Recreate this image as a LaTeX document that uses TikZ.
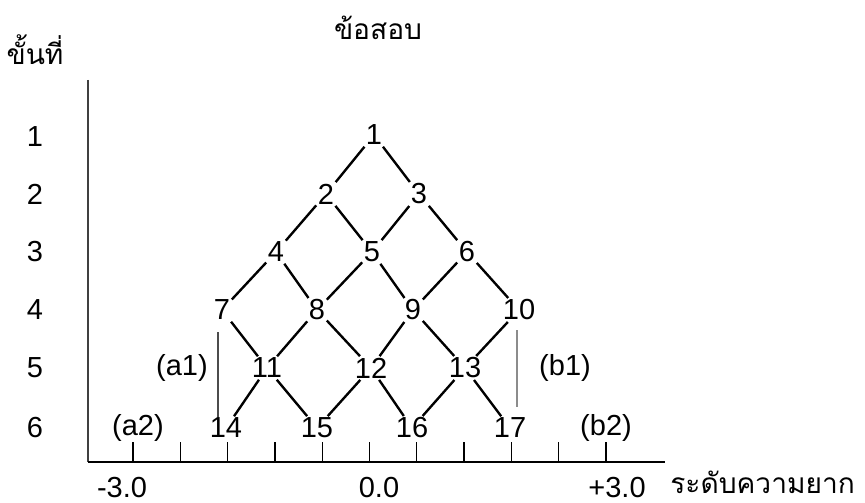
\documentclass[tikz,border=0pt]{standalone}
\usepackage{fontspec}
\setmainfont{Liberation Sans}
\newfontfamily\thaifont[Script=Thai]{Loma}

\tikzset{
    num/.style={font=\fontsize{16.5}{19}\selectfont, inner sep=0.8pt},
    thai/.style={font=\thaifont\fontsize{16}{19}\selectfont, inner sep=0pt},
    link/.style={line width=1.35pt},
    axis/.style={line width=0.9pt},
}

\begin{document}
\begin{tikzpicture}[x=0.02cm, y=-0.02cm]
        \useasboundingbox (0,0) rectangle (865,503);

        % Titles
        \node[thai] (item) at (378,28) {ข้อสอบ};
        \node[thai] (stage) at (35,50) {ขั้นที่};
        \node[thai, anchor=base west] (diff) at (670,493) {ระดับความยาก};

        % Axes
        \coordinate (ytop) at (88,80);
        \coordinate (orig) at (88,462);
        \coordinate (xend) at (665,462);
        \draw[axis, black!75] (ytop) -- (orig);
        \draw[axis] (orig) -- (xend);
        \foreach \i in {0,...,10}
            \draw[line width=0.7pt] (133+47.3*\i,442) -- (133+47.3*\i,462);
        \node[num] (lo) at (122,488) {-3.0};
        \node[num] (mid) at (379,488) {0.0};
        \node[num] (hi) at (617,488) {+3.0};

        % Stage numbers
        \foreach \s/\y in {1/137,2/194,3/252,4/310,5/368,6/428}
            \node[num] (s\s) at (35,\y) {\s};

        % Items
        \node[num] (n1) at (374,135) {1};
        \node[num] (n2) at (326,194) {2};
        \node[num] (n3) at (419,194) {3};
        \node[num] (n4) at (276,252) {4};
        \node[num] (n5) at (372,252) {5};
        \node[num] (n6) at (467,252) {6};
        \node[num] (n7) at (222,310) {7};
        \node[num] (n8) at (317,310) {8};
        \node[num] (n9) at (413,310) {9};
        \node[num] (n10) at (519,310) {10};
        \node[num] (n11) at (267,368) {11};
        \node[num] (n12) at (371,368) {12};
        \node[num] (n13) at (465,368) {13};
        \node[num] (n14) at (226,428) {14};
        \node[num] (n15) at (317,428) {15};
        \node[num] (n16) at (412,428) {16};
        \node[num] (n17) at (510,428) {17};

        % Branches
        \foreach \a/\b in {1/2,1/3,2/4,2/5,3/5,3/6,4/7,4/8,5/8,5/9,6/9,6/10,
                           7/11,8/11,8/12,9/12,9/13,10/13,
                           11/14,11/15,12/15,12/16,13/16,13/17}
            \draw[link] (n\a) -- (n\b);

        % End ranges
        \coordinate (a1top) at (218,332);
        \coordinate (a1bot) at (218,417);
        \coordinate (b1top) at (517,330);
        \coordinate (b1bot) at (517,407);
        \draw[line width=1pt, black!70] (a1top) -- (a1bot);
        \draw[line width=1.2pt, black!45] (b1top) -- (b1bot);
        \node[num] (a1) at (182,368) {(a1)};
        \node[num] (b1) at (565,368) {(b1)};
        \node[num] (a2) at (138,428) {(a2)};
        \node[num] (b2) at (606,428) {(b2)};
    \end{tikzpicture}
\end{document}
